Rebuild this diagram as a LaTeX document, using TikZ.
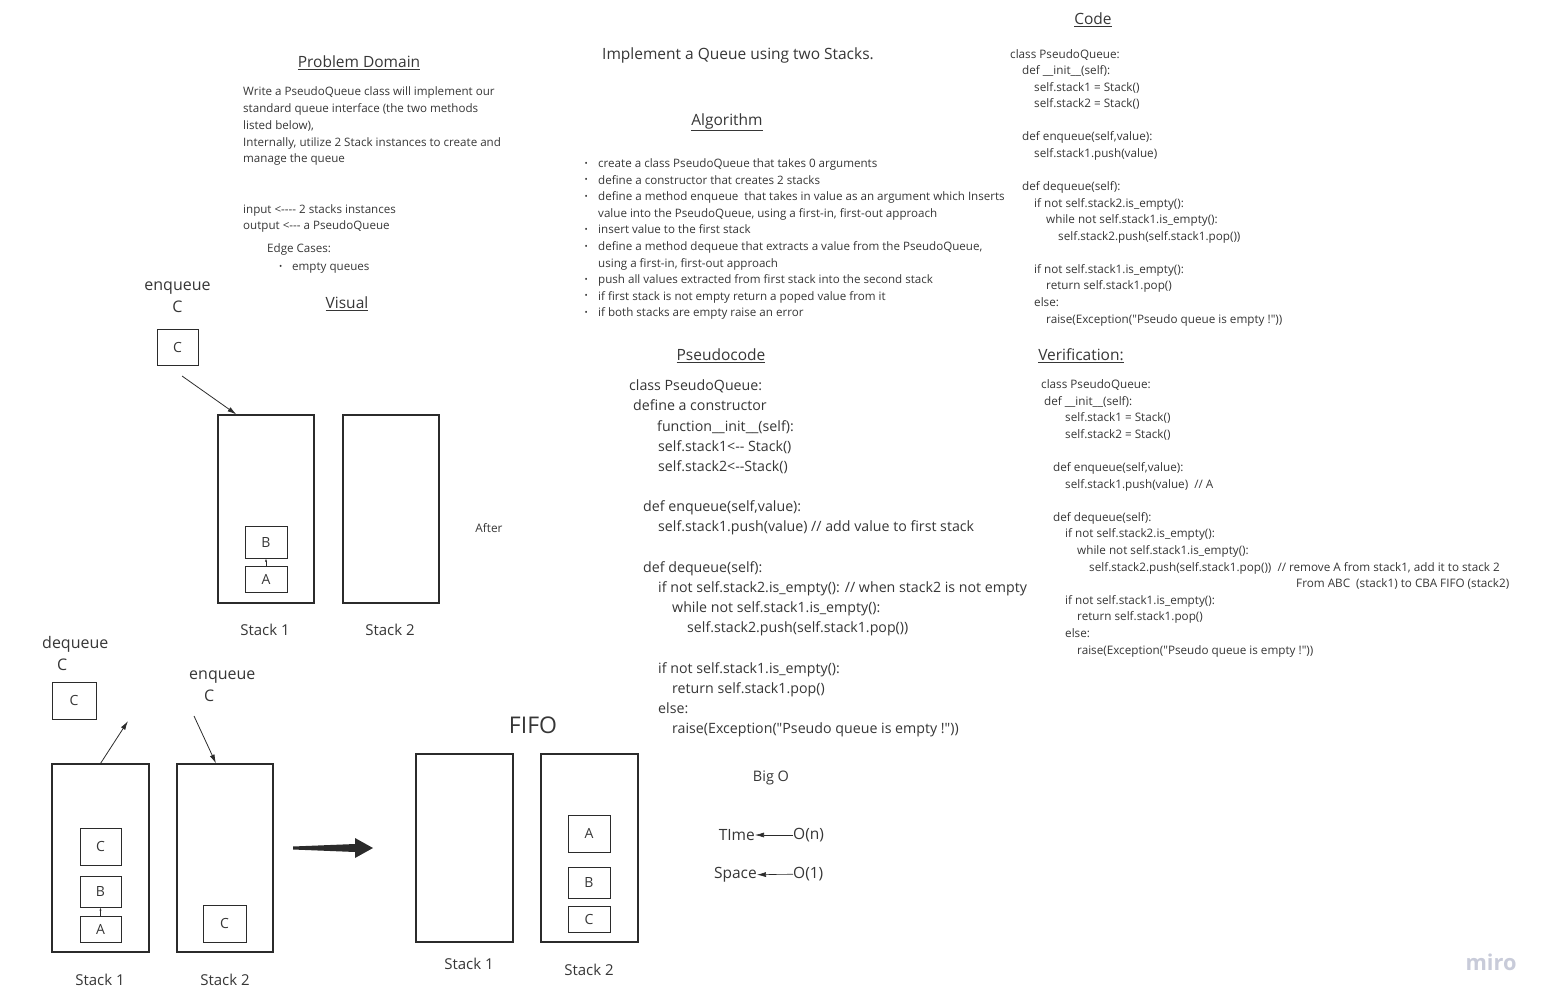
\documentclass[tikz,border=0pt]{standalone}
\usepackage{fontspec}
\setmainfont{Open Sans}
\usetikzlibrary{arrows.meta,positioning}

\definecolor{ink}{HTML}{363636}
\definecolor{boxline}{HTML}{2B2B2B}
\definecolor{mirogray}{HTML}{C8CBD9}

\newcommand\fsz[2]{\fontsize{#1}{#2}\selectfont}
\newcommand\ind[1]{\hspace*{#1pt}}
\newcommand\qq{\textquotedbl}

\tikzset{
  stackbox/.style={draw=boxline, line width=1.1pt, minimum width=96pt, minimum height=188pt, inner sep=0pt},
  itembox/.style={draw=boxline, line width=1pt, minimum width=42pt, inner sep=0pt, text=ink, font=\fsz{14}{16}},
  txt/.style={text=ink, inner sep=0pt, align=left, anchor=base west},
  head/.style={text=ink, inner sep=0pt, font=\fsz{15.5}{18}},
  lbl/.style={text=ink, inner sep=0pt, font=\fsz{15}{22}},
  ptr/.style={draw=boxline, line width=0.8pt, -{Latex[length=9pt,width=5pt]}},
  tinyptr/.style={draw=boxline, line width=0.5pt, -{Latex[length=3pt,width=2pt]}}
}

\begin{document}
\begin{tikzpicture}[x=1pt,y=-1pt]
  \useasboundingbox (0,0) rectangle (1552,1006);

  \node[head] (hPD) at (359,63) {\underline{Problem Domain}};
  \node[head] (hVis) at (347,304) {\underline{Visual}};
  \node[head] (hCode) at (1093,20) {\underline{Code}};
  \node[head] (hAlg) at (727,122) {\underline{Algorithm}};
  \node[head] (hPse) at (721,356) {\underline{Pseudocode}};
  \node[head] (hVer) at (1081,356) {\underline{Verification:}};
  \node[head, anchor=west] (title) at (602,55) {Implement a Queue using two Stacks.};

  \node[txt, font=\fsz{11.6}{16.75}] (pdtext) at (243,229.9) {Write a PseudoQueue class will implement our\\
    standard queue interface (the two methods\\
    listed below),\\
    Internally, utilize 2 Stack instances to create and\\
    manage the queue\\
    \\
    \\
    input <-{}-{}-{}- 2 stacks instances\\
    output <-{}-{}- a PseudoQueue};
  \node[txt, font=\fsz{11.6}{16.75}] (edge) at (267,252.8) {Edge Cases:};
  \node[txt, font=\fsz{8.5}{16.75}] (edgebul) at (279,269.5) {\textbullet};
  \node[txt, font=\fsz{11.6}{16.75}] (edgeitem) at (292,270.8) {empty queues};

  \node[txt, font=\fsz{8.5}{16.6}] (algbul) at (584.5,315.5) {\textbullet\\ \textbullet\\ \textbullet\\ \\ \textbullet\\ \textbullet\\ \\ \textbullet\\ \textbullet\\ \textbullet};
  \node[txt, font=\fsz{11.6}{16.6}] (algtext) at (598,316.9) {create a class PseudoQueue that takes 0 arguments\\
    define a constructor that creates 2 stacks\\
    define a method enqueue\ \ that takes in value as an argument which Inserts\\
    value into the PseudoQueue, using a first-in, first-out approach\\
    insert value to the first stack\\
    define a method dequeue that extracts a value from the PseudoQueue,\\
    using a first-in, first-out approach\\
    push all values extracted from first stack into the second stack\\
    if first stack is not empty return a poped value from it\\
    if both stacks are empty raise an error};

  \node[txt, font=\fsz{11.7}{16.56}] (code) at (1010,323) {class PseudoQueue:\\
    \ind{12}def \_\_init\_\_(self):\\
    \ind{24}self.stack1 = Stack()\\
    \ind{24}self.stack2 = Stack()\\
    \\
    \ind{12}def enqueue(self,value):\\
    \ind{24}self.stack1.push(value)\\
    \\
    \ind{12}def dequeue(self):\\
    \ind{24}if not self.stack2.is\_empty():\\
    \ind{36}while not self.stack1.is\_empty():\\
    \ind{48}self.stack2.push(self.stack1.pop())\\
    \\
    \ind{24}if not self.stack1.is\_empty():\\
    \ind{36}return self.stack1.pop()\\
    \ind{24}else:\\
    \ind{36}raise(Exception(\qq Pseudo queue is empty !\qq))};

  \node[txt, font=\fsz{11.7}{16.6}] (verif) at (1041,654) {class PseudoQueue:\\
    \ind{3}def \_\_init\_\_(self):\\
    \ind{24}self.stack1 = Stack()\\
    \ind{24}self.stack2 = Stack()\\
    \\
    \ind{12}def enqueue(self,value):\\
    \ind{24}self.stack1.push(value)\ \ // A\\
    \\
    \ind{12}def dequeue(self):\\
    \ind{24}if not self.stack2.is\_empty():\\
    \ind{36}while not self.stack1.is\_empty():\\
    \ind{48}self.stack2.push(self.stack1.pop())\ \ // remove A from stack1, add it to stack 2\\
    \ind{255}From ABC\ \ (stack1) to CBA FIFO (stack2)\\
    \ind{24}if not self.stack1.is\_empty():\\
    \ind{36}return self.stack1.pop()\\
    \ind{24}else:\\
    \ind{36}raise(Exception(\qq Pseudo queue is empty !\qq))};

  \node[txt, font=\fsz{14.2}{20.18}] (pseudo) at (629,733.7) {class PseudoQueue:\\
    \ind{4}define a constructor\\
    \ind{28}function\_\_init\_\_(self):\\
    \ind{29}self.stack1<-{}- Stack()\\
    \ind{29}self.stack2<-{}-Stack()\\
    \\
    \ind{14}def enqueue(self,value):\\
    \ind{29}self.stack1.push(value) // add value to first stack\\
    \\
    \ind{14}def dequeue(self):\\
    \ind{29}if not self.stack2.is\_empty(): // when stack2 is not empty\\
    \ind{43}while not self.stack1.is\_empty():\\
    \ind{58}self.stack2.push(self.stack1.pop())\\
    \\
    \ind{29}if not self.stack1.is\_empty():\\
    \ind{43}return self.stack1.pop()\\
    \ind{29}else:\\
    \ind{43}raise(Exception(\qq Pseudo queue is empty !\qq))};

  \node[lbl, font=\fsz{16}{22}, align=center, anchor=base] (enqA) at (177.5,312.8) {enqueue\\C};
  \node[itembox, minimum width=41pt, minimum height=36pt] (cA) at (177.5,347) {C};
  \node[stackbox] (s1A) at (266,509) {};
  \node[stackbox] (s2A) at (391,509) {};
  \node[itembox, minimum height=32pt] (bA) at (266,542) {B};
  \node[itembox, minimum height=26pt] (aA) at (266,579) {A};
  \node[lbl] (s1Alab) at (265,630) {Stack 1};
  \node[lbl] (s2Alab) at (390,630) {Stack 2};
  \node[text=ink, inner sep=0pt, font=\fsz{11.8}{14}] (after) at (489,528) {After};
  \coordinate (enqAtail) at (182,376);
  \draw[ptr] (enqAtail) -- ([xshift=19pt]s1A.north west);
  \draw[tinyptr] (aA.north) -- (bA.south);

  \node[lbl, font=\fsz{16}{22}, align=left, anchor=base west] (deqB) at (42,670.8) {dequeue\\\ind{15}C};
  \node[itembox, minimum width=44pt, minimum height=37pt] (cout) at (74,700.5) {C};
  \node[lbl, font=\fsz{16}{22}, align=left, anchor=base west] (enqB) at (189,701.8) {enqueue\\\ind{15}C};
  \node[stackbox, minimum width=97pt] (s1B) at (100.5,858) {};
  \node[stackbox] (s2B) at (225,858) {};
  \node[itembox, minimum width=41pt, minimum height=37pt] (cB) at (100.5,846.5) {C};
  \node[itembox, minimum width=41pt, minimum height=31pt] (bB) at (100.5,891.5) {B};
  \node[itembox, minimum width=41pt, minimum height=26pt] (aB) at (100.5,929) {A};
  \node[itembox, minimum width=43pt, minimum height=37pt] (cB2) at (224.5,923.5) {C};
  \node[lbl] (s1Blab) at (100,980) {Stack 1};
  \node[lbl] (s2Blab) at (225,980) {Stack 2};
  \coordinate (deqBhead) at (128,721);
  \coordinate (enqBtail) at (194,716);
  \draw[ptr] (s1B.north) -- (deqBhead);
  \draw[ptr] (enqBtail) -- ([xshift=-9pt]s2B.north);
  \draw[tinyptr] (aB.north) -- (bB.south);

  \coordinate (bigL) at (293,848);
  \coordinate (bigR) at (373,848);
  \fill[boxline] (bigL) ++(0,-1.5) -- ++(62,-2.5) -- ++(0,-6) -- (bigR) -- ++(-18,10) -- ++(0,-6) -- ++(-62,-2.5) -- cycle;

  \node[text=ink, inner sep=0pt, font=\fsz{23}{26}] (fifo) at (533,725) {FIFO};
  \node[stackbox, minimum width=97pt] (s1C) at (464.5,848) {};
  \node[stackbox, minimum width=97pt] (s2C) at (589.5,848) {};
  \node[itembox, minimum height=37pt] (aC) at (589,833.5) {A};
  \node[itembox, minimum height=31pt] (bC) at (589,882.5) {B};
  \node[itembox, minimum height=26pt] (cC) at (589,919) {C};
  \node[lbl] (s1Clab) at (469,964) {Stack 1};
  \node[lbl] (s2Clab) at (589,970) {Stack 2};

  \node[text=ink, inner sep=0pt, font=\fsz{14.5}{17}] (bigo) at (771,778) {Big O};
  \node[text=ink, inner sep=0pt, font=\fsz{15.5}{18}, anchor=east] (time) at (755,835) {TIme};
  \node[text=ink, inner sep=0pt, font=\fsz{15.5}{18}, anchor=west] (on) at (793,835) {O(n)};
  \node[text=ink, inner sep=0pt, font=\fsz{15.5}{18}, anchor=east] (space) at (757,875) {Space};
  \node[text=ink, inner sep=0pt, font=\fsz{15.5}{18}, anchor=west] (o1) at (793,874) {O(1)};
  \draw[ptr, line width=0.6pt] (on) -- (time);
  \draw[ptr, line width=0.6pt] (o1) -- (space);

  \node[text=mirogray, inner sep=0pt, font=\fsz{21.8}{26}\bfseries] (miro) at (1491,962) {miro};
\end{tikzpicture}
\end{document}
